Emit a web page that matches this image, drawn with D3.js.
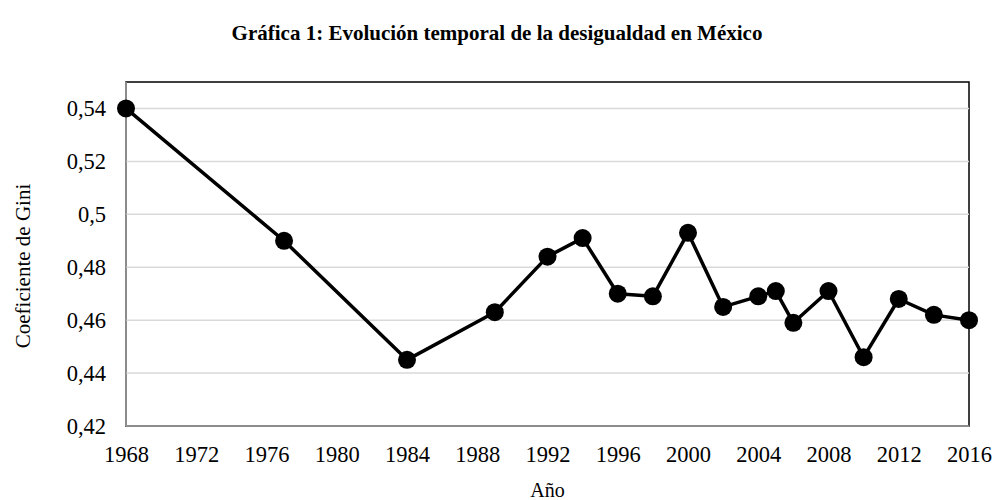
<!DOCTYPE html>
<html>
<head>
<meta charset="utf-8">
<script src="https://cdn.jsdelivr.net/npm/d3@7"></script>
<style>
  body { margin: 0; background: #fff; }
  text { font-family: "Liberation Serif", "Times New Roman", serif; fill: #000; }
</style>
</head>
<body>
<div id="chart"></div>
<script>
const years = [1968, 1977, 1984, 1989, 1992, 1994, 1996, 1998, 2000, 2002, 2004, 2005, 2006, 2008, 2010, 2012, 2014, 2016]
const gini = [0.540, 0.490, 0.445, 0.463, 0.484, 0.491, 0.470, 0.469, 0.493, 0.465, 0.469, 0.471, 0.459, 0.471, 0.446, 0.468, 0.462, 0.460]
const xTicks = [1968, 1972, 1976, 1980, 1984, 1988, 1992, 1996, 2000, 2004, 2008, 2012, 2016]
const yTicks = [0.42, 0.44, 0.46, 0.48, 0.50, 0.52, 0.54]

init()

function init(){
    const width = 997, height = 500
    const left = 126, right = 969, top = 82, bottom = 426

    let svg = d3.select('#chart')
                .append('svg')
                .attr('width', width)
                .attr('height', height)

    let x = d3.scaleLinear().domain([1968, 2016]).range([left, right])
    let y = d3.scaleLinear().domain([0.42, 0.55]).range([bottom, top])

    // plot area frame
    svg.append('rect')
        .attr('x', left).attr('y', top)
        .attr('width', right - left).attr('height', bottom - top)
        .style('fill', 'none')
        .style('stroke', '#000')
        .style('stroke-width', 1.5)

    // gridlines
    svg.append('g')
        .selectAll('line')
        .data(yTicks.slice(1))
        .join('line')
        .attr('x1', left).attr('x2', right)
        .attr('y1', d => y(d)).attr('y2', d => y(d))
        .style('stroke', '#d9d9d9')
        .style('stroke-width', 1.5)

    // axes
    let yAxis = svg.append('g')
        .attr('transform', `translate(${left},0)`)
        .call(d3.axisLeft(y).tickValues(yTicks).tickSize(0).tickPadding(20)
            .tickFormat(d => d3.format('.2~f')(d).replace('.', ',')))
    yAxis.select('.domain').style('stroke', '#a6a6a6').style('stroke-width', 1.5)
        .attr('d', `M0,${top}V${bottom}`)
    yAxis.selectAll('text').style('font-size', '22.5px').style('font-family', '"Liberation Serif", serif')

    let xAxis = svg.append('g')
        .attr('transform', `translate(0,${bottom})`)
        .call(d3.axisBottom(x).tickValues(xTicks).tickSize(0).tickPadding(20)
            .tickFormat(d3.format('d')))
    xAxis.select('.domain').style('stroke', '#a6a6a6').style('stroke-width', 1.5)
        .attr('d', `M${left},0H${right}`)
    xAxis.selectAll('text').style('font-size', '22.5px').style('font-family', '"Liberation Serif", serif')

    // line and markers
    const pts = years.map((yr, i) => [yr, gini[i]])
    let line = d3.line().x(d => x(d[0])).y(d => y(d[1]))

    svg.append('path')
        .datum(pts)
        .attr('d', line)
        .style('fill', 'none')
        .style('stroke', '#000')
        .style('stroke-width', 3.5)
        .style('stroke-linejoin', 'round')

    svg.append('g')
        .selectAll('circle')
        .data(pts)
        .join('circle')
        .attr('cx', d => x(d[0]))
        .attr('cy', d => y(d[1]))
        .attr('r', 9)
        .style('fill', '#000')

    // titles
    svg.append('text')
        .attr('x', 497).attr('y', 40)
        .attr('text-anchor', 'middle')
        .style('font-size', '21px')
        .style('font-weight', 'bold')
        .text('Gráfica 1: Evolución temporal de la desigualdad en México')

    svg.append('text')
        .attr('transform', `translate(30,266) rotate(-90)`)
        .attr('text-anchor', 'middle')
        .style('font-size', '21px')
        .text('Coeficiente de Gini')

    svg.append('text')
        .attr('x', (left + right) / 2).attr('y', 497)
        .attr('text-anchor', 'middle')
        .style('font-size', '20px')
        .text('Año')
}
</script>
</body>
</html>
